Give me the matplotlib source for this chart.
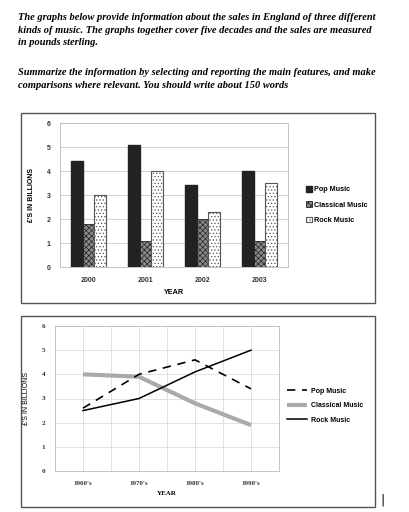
import numpy as np
import matplotlib
matplotlib.use("Agg")
from matplotlib import pyplot as plt
from matplotlib.patches import Rectangle

# bar chart data (2000-2003)
bar_years = ['2000', '2001', '2002', '2003']
pop_bar = [4.4, 5.1, 3.4, 4.0]
classical_bar = [1.8, 1.1, 2.0, 1.1]
rock_bar = [3.0, 4.0, 2.3, 3.5]

# line chart data (decades)
decades = ["1960's", "1970's", "1980's", "1990's"]
pop_line = [2.6, 4.0, 4.6, 3.4]
classical_line = [4.0, 3.9, 2.8, 1.9]
rock_line = [2.5, 3.0, 4.1, 5.0]

W, H = 409, 512
fig = plt.figure(figsize=(W / 100, H / 100), dpi=100)

intro = ("The graphs below provide information about the sales in England of three different\n"
         "kinds of music. The graphs together cover five decades and the sales are measured\n"
         "in pounds sterling.")
task = ("Summarize the information by selecting and reporting the main features, and make\n"
        "comparisons where relevant. You should write about 150 words")
fig.text(18 / W, 1 - 13 / H, intro, ha='left', va='top', family='Liberation Serif',
         style='italic', weight='bold', fontsize=7.5, linespacing=1.52)
fig.text(18 / W, 1 - 68 / H, task, ha='left', va='top', family='Liberation Serif',
         style='italic', weight='bold', fontsize=7.5, linespacing=1.52)

# outer boxes
for y0, y1 in [(113, 303), (316, 507)]:
    fig.patches.append(Rectangle((21 / W, 1 - y1 / H), 354 / W, (y1 - y0) / H,
                                 transform=fig.transFigure, fill=False,
                                 edgecolor='#555555', lw=1.0))

tick_font = dict(family='Liberation Sans', weight='bold', size=5.0, color='#333333')

# ---- bar chart ----
ax1 = fig.add_axes([60 / W, 1 - 267 / H, 228 / W, 144 / H])
x = np.arange(len(bar_years))
bw = 0.2
plt.rcParams['hatch.linewidth'] = 0.5
ax1.bar(x - bw, pop_bar, bw, color='#222222', edgecolor='#222222', label='Pop Music', zorder=3)
ax1.bar(x, classical_bar, bw, color='#8a8a8a', edgecolor='#222222', hatch='xxxxxx',
        lw=0.6, label='Classical Music', zorder=3)
ax1.bar(x + bw, rock_bar, bw, color='white', edgecolor='#555555', hatch='.....',
        lw=0.8, label='Rock Music', zorder=3)
ax1.set_xlim(-0.5, 3.5)
ax1.set_ylim(0, 6)
ax1.set_xticks(x)
ax1.set_xticklabels(bar_years, **tick_font)
ax1.set_yticks(range(7))
ax1.set_yticklabels([str(i) for i in range(7)], **tick_font)
ax1.tick_params(length=0, pad=7)
ax1.grid(axis='y', color='#cccccc', lw=0.6, zorder=0)
for s in ax1.spines.values():
    s.set_color('#bbbbbb')
    s.set_linewidth(0.6)
ax1.set_xlabel('YEAR', fontdict=dict(family='Liberation Sans', weight='bold', size=5.2),
               labelpad=4)
ax1.set_ylabel("£'S IN BILLIONS", fontdict=dict(family='Liberation Sans', weight='bold', size=5.0),
               labelpad=8)
ax1.legend(loc='center left', bbox_to_anchor=(1.05, 0.43), frameon=False,
           prop=dict(family='Liberation Sans', weight='bold', size=5.2),
           handlelength=0.8, handleheight=0.8, handletextpad=0.3, labelspacing=1.1)

# ---- line chart ----
ax2 = fig.add_axes([55 / W, 1 - 471 / H, 224 / W, 145 / H])
xl = np.arange(len(decades))
ax2.plot(xl, pop_line, color='black', lw=1.2, ls=(0, (5, 4)), label='Pop Music', zorder=3)
ax2.plot(xl, classical_line, color='#aaaaaa', lw=3.0, label='Classical Music', zorder=2,
         solid_capstyle='butt')
ax2.plot(xl, rock_line, color='black', lw=1.1, label='Rock Music', zorder=3)
ax2.set_xlim(-0.5, 3.5)
ax2.set_ylim(0, 6)
ax2.set_xticks(np.arange(-0.5, 3.6, 0.5))
ax2.set_xticklabels(['' if i % 2 == 0 else decades[i // 2] for i in range(9)],
                    family='Liberation Serif', weight='bold', size=5.0, color='#333333')
ax2.set_yticks(range(7))
ax2.set_yticklabels([str(i) for i in range(7)], family='Liberation Serif', weight='bold',
                    size=5.2, color='#333333')
ax2.tick_params(length=0, pad=7)
ax2.grid(True, color='#dddddd', lw=0.6, zorder=0)
for s in ax2.spines.values():
    s.set_color('#bbbbbb')
    s.set_linewidth(0.6)
ax2.set_xlabel('YEAR', fontdict=dict(family='Liberation Serif', weight='bold', size=5.0),
               labelpad=4)
ax2.set_ylabel("£'S IN BILLIONS", fontdict=dict(family='Liberation Sans', size=5.0),
               labelpad=8)
ax2.legend(loc='center left', bbox_to_anchor=(1.01, 0.45), frameon=False,
           prop=dict(family='Liberation Sans', weight='bold', size=5.0),
           handlelength=2.8, handletextpad=0.6, labelspacing=1.1)

fig.text(383 / W, 1 - 500 / H, '|', fontsize=9, ha='center', va='center', color='black')

fig.savefig('out.png', dpi=100)
